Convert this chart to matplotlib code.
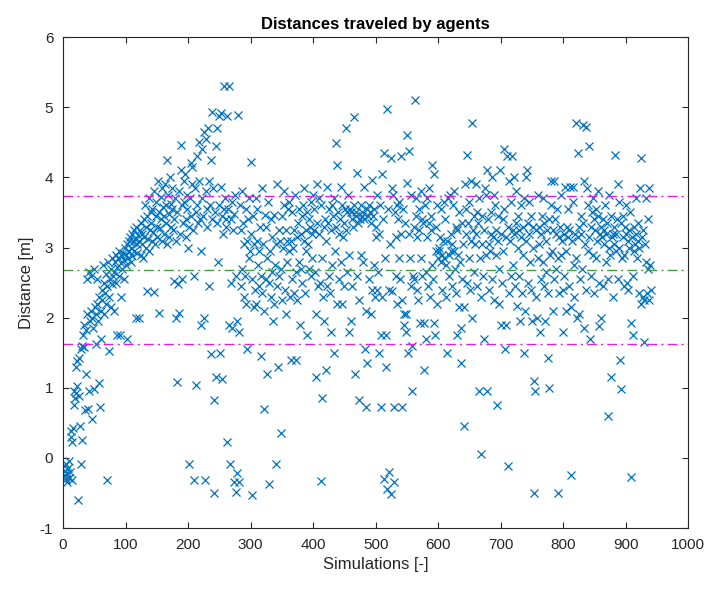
import numpy as np
import matplotlib
matplotlib.use("Agg")
import matplotlib.pyplot as plt

plt.rcParams['font.family'] = ['Liberation Sans', 'DejaVu Sans']
plt.rcParams['axes.unicode_minus'] = False

# distance per simulation (20 simulations per row)
distances = [
    -0.12, -0.25, -0.18, -0.30, -0.08, -0.22, -0.35, -0.15, -0.28, -0.05, -0.20, 0.30, 0.38, 0.22, -0.32, 0.42, 0.75, 0.95, 0.85, 1.30,
    0.92, 1.38, 1.02, -0.60, 1.42, 0.88, 0.45, 1.55, -0.08, 1.60, 0.25, 1.75, 1.90, 1.58, 0.68, 1.82, 1.20, 2.55, 2.05, 0.70,
    2.65, 0.95, 1.95, 2.10, 2.60, 0.55, 2.00, 1.85, 2.70, 0.98, 2.15, 1.62, 2.05, 2.55, 2.20, 1.95, 2.30, 1.07, 0.72, 1.70,
    2.10, 2.40, 2.25, 2.75, 2.05, 2.50, 2.35, 2.62, 2.20, -0.32, 2.45, 2.80, 2.30, 1.52, 2.55, 2.70, 2.15, 2.48, 2.85, 2.60,
    2.10, 2.65, 2.80, 2.50, 2.90, 2.72, 1.75, 2.85, 2.60, 2.95, 1.76, 2.78, 2.30, 2.88, 2.70, 2.92, 2.55, 2.82, 3.00, 2.75,
    2.90, 3.05, 1.70, 2.85, 3.10, 2.95, 3.15, 2.80, 3.00, 3.20, 2.88, 3.08, 3.25, 2.95, 3.12, 3.30, 2.00, 3.05, 2.92, 3.18,
    3.10, 2.00, 3.25, 2.90, 3.35, 3.05, 3.20, 2.85, 3.40, 3.15, 3.60, 3.00, 3.30, 2.38, 3.45, 3.12, 3.70, 2.95, 3.25, 3.50,
    3.35, 3.10, 3.55, 3.22, 2.36, 3.80, 3.05, 3.45, 3.65, 3.30, 3.15, 3.95, 3.50, 2.07, 3.28, 3.72, 3.40, 3.10, 3.85, 3.58,
    3.45, 3.20, 3.90, 3.60, 3.35, 3.05, 4.25, 3.75, 3.48, 3.15, 4.00, 3.62, 3.30, 3.55, 3.85, 3.25, 3.40, 2.52, 3.70, 3.10,
    2.00, 3.50, 1.08, 2.48, 2.07, 3.80, 3.20, 4.10, 4.46, 3.60, 2.55, 3.35, 3.95, 3.65, 4.05, 3.40, 3.15, 3.75, 3.55, 3.00,
    3.30, -0.08, 3.70, 4.20, 3.45, 3.90, 4.15, 3.25, 2.60, -0.32, 3.85, 3.50, 1.04, 4.30, 3.60, 3.35, 3.95, 4.50, 3.40, 2.95,
    1.90, 3.70, 4.40, 3.45, 2.00, 4.65, -0.32, 3.80, 4.55, 3.30, 3.55, 4.70, 3.95, 2.45, 3.60, 4.25, 1.48, 3.40, 4.94, 3.85,
    0.82, -0.50, 3.50, 4.45, 1.15, 3.35, 4.70, 2.80, 4.88, 3.60, 1.50, 3.87, 4.92, 3.45, 1.12, 3.20, 3.55, 5.30, 3.70, 3.40,
    3.30, 4.87, 0.23, 3.55, 1.90, 5.30, -0.08, 3.40, 2.50, 3.65, 1.85, 3.25, 3.48, -0.35, 3.75, 2.60, -0.48, 1.95, -0.22, 4.89,
    -0.35, 1.80, 3.60, 2.45, 3.25, 2.70, 3.80, 3.35, 2.30, 3.05, 2.60, 3.55, 2.20, 3.10, 1.55, 3.40, 2.85, 3.70, 2.95, 4.22,
    3.20, 2.55, -0.53, 3.45, 2.15, 3.05, 2.40, 3.70, 2.20, 3.10, 3.55, 2.75, 2.95, 2.45, 3.30, 1.45, 2.60, 3.85, 2.35, 3.05,
    2.10, 0.70, 3.47, 2.55, 3.30, 1.20, 2.85, 3.65, 2.50, -0.37, 2.95, 2.30, 3.40, 2.65, 3.15, 1.95, 2.20, 3.47, 2.75, -0.08,
    3.05, 2.45, 3.90, 1.30, 3.25, 2.60, 3.10, 0.35, 2.70, 3.45, 2.25, 3.00, 3.60, 3.80, 2.40, 3.25, 2.05, 3.10, 2.80, 3.55,
    2.95, 3.65, 2.30, 1.40, 3.10, 3.50, 2.55, 3.00, 2.35, 3.25, 3.75, 2.65, 1.40, 3.15, 2.25, 3.35, 2.80, 3.55, 1.90, 2.70,
    3.20, 3.45, 2.50, 3.60, 3.10, 3.85, 2.35, 3.25, 2.95, 3.50, 1.75, 3.05, 3.40, 2.70, 3.30, 2.60, 3.65, 2.85, 3.20, 3.75,
    3.25, 3.55, 2.65, 2.05, 1.15, 3.90, 3.35, 2.45, 3.70, 3.20, 2.50, -0.33, 3.60, 2.85, 0.85, 2.30, 3.30, 1.95, 3.40, 1.25,
    3.10, 2.45, 3.87, 3.35, 2.60, 3.55, 2.35, 1.80, 3.25, 3.60, 2.75, 3.45, 3.70, 1.50, 2.95, 4.49, 3.30, 2.20, 4.18, 3.50,
    3.20, 2.55, 3.40, 3.87, 2.80, 3.60, 2.20, 3.15, 2.45, 3.35, 3.55, 4.70, 3.25, 2.65, 3.50, 3.75, 2.90, 1.80, 3.55, 1.95,
    3.50, 3.40, 2.45, 3.30, 3.60, 4.86, 1.20, 3.45, 3.50, 2.60, 4.06, 3.35, 2.25, 0.82, 3.40, 3.60, 2.90, 3.45, 3.50, 2.80,
    3.40, 3.87, 1.55, 0.72, 2.10, 3.55, 1.35, 3.45, 2.55, 3.60, 3.50, 2.05, 3.35, 2.40, 3.97, 3.45, 2.75, 3.55, 2.30, 3.15,
    3.30, 2.40, 3.75, 2.65, 1.50, 3.20, 3.60, 1.75, 0.72, 4.05, 2.30, 3.40, 4.35, -0.30, 2.85, 1.75, 1.30, 4.98, -0.45, 3.55,
    -0.20, 2.40, 3.05, 4.27, -0.52, 2.38, 3.85, 3.75, 0.72, -0.35, 3.50, 2.60, 3.15, 3.60, 2.20, 3.40, 2.85, 3.65, 2.55, 3.20,
    4.30, 0.72, 2.25, 3.55, 2.05, 1.90, 3.35, 1.80, 2.05, 4.60, 3.92, 1.50, 4.37, 3.20, 2.85, 3.75, 2.45, 1.60, 0.95, 2.60,
    3.30, 2.55, 5.10, 3.70, 3.45, 2.40, 3.15, 2.25, 3.55, 3.25, 1.92, 3.80, 2.85, 3.40, 2.60, 3.35, 1.25, 1.92, 3.60, 2.65,
    1.70, 3.70, 3.15, 2.45, 3.35, 3.85, 2.30, 3.25, 3.45, 4.18, 2.75, 2.55, 4.05, 1.92, 1.75, 3.30, 2.95, 3.60, 2.20, 2.85,
    3.00, 2.95, 3.15, 2.80, 3.55, 2.40, 2.90, 3.10, 3.65, 2.85, 3.40, 2.30, 2.75, 1.50, 3.10, 3.70, 2.90, 2.60, 3.75, 2.95,
    3.20, 2.45, 3.05, 3.60, 2.95, 3.80, 2.70, 3.30, 2.35, 1.75, 3.25, 2.90, 2.15, 3.50, 2.80, 1.85, 1.35, 3.35, 2.55, 3.05,
    2.15, 0.45, 3.90, 3.20, 3.55, 4.32, 2.50, 3.35, 2.85, 3.65, 2.40, 3.95, 3.10, 4.77, 2.00, 3.25, 2.65, 3.45, 3.05, 3.90,
    3.20, 3.50, 2.45, 3.35, 0.95, 3.70, 2.85, 0.05, 2.30, 3.45, 3.05, 2.60, 1.70, 3.25, 3.85, 3.75, 2.90, 4.10, 0.95, 3.40,
    3.05, 2.40, 2.95, 3.50, 3.20, 4.00, 2.55, 3.15, 3.75, 2.25, 3.60, 3.25, 2.90, 0.75, 3.10, 3.45, 2.70, 2.20, 4.10, 1.90,
    3.20, 2.50, 3.40, 2.95, 4.40, 3.55, 1.55, 3.15, 1.90, 4.30, -0.12, 3.30, 3.95, 2.35, 3.10, 3.65, 2.60, 4.30, 3.25, 2.75,
    4.00, 3.20, 2.45, 3.35, 3.80, 2.17, 3.00, 3.45, 2.60, 3.25, 1.95, 3.15, 3.60, 2.35, 2.90, 3.30, 1.50, 3.70, 2.10, 4.00,
    3.10, 4.10, 3.35, 2.50, 3.20, 3.65, 2.80, 3.45, 2.40, 1.95, 3.00, 3.30, 1.10, -0.50, 0.95, 3.25, 2.30, 2.00, 3.75, 2.85,
    3.05, 3.30, 1.80, 2.55, 3.20, 3.45, 2.80, 3.70, 2.45, 3.35, 1.95, 3.10, 2.65, 3.25, 2.35, 1.43, 1.00, 3.40, 2.90, 3.60,
    3.95, 2.95, 3.25, 2.10, 2.55, 3.95, 3.40, 2.70, 3.20, 3.55, 2.85, -0.50, 3.15, 2.35, 3.30, 2.90, 3.75, 3.10, 2.40, 1.80,
    3.20, 2.60, 3.87, 2.95, 2.10, 3.30, 3.15, 3.55, 2.45, 3.25, 3.87, 2.15, -0.25, 3.10, 3.65, 3.87, 2.30, 2.75, 3.20, 2.85,
    4.77, 2.00, 3.15, 4.35, 2.05, 3.30, 2.55, 3.45, 3.20, 2.70, 3.35, 4.75, 3.95, 1.85, 3.05, 2.40, 4.72, 3.85, 2.95, 3.60,
    3.15, 4.45, 1.70, 3.30, 2.60, 3.50, 2.90, 3.70, 3.40, 2.35, 3.25, 3.55, 2.85, 3.10, 3.80, 3.45, 2.50, 1.88, 3.20, 3.30,
    2.00, 3.15, 3.40, 2.45, 3.25, 3.05, 3.60, 2.80, 3.20, 3.35, 2.55, 0.60, 3.00, 3.75, 2.90, 3.45, 1.15, 3.15, 2.30, 3.20,
    3.05, 3.30, 4.32, 2.95, 3.20, 3.40, 2.55, 3.90, 3.00, 3.65, 1.40, 0.98, 3.35, 2.85, 3.15, 3.45, 2.45, 2.90, 3.30, 3.20,
    3.60, 2.50, 2.40, 3.10, 3.25, 3.00, 3.50, -0.27, 1.92, 3.15, 2.60, 1.75, 3.30, 2.95, 3.05, 3.20, 3.70, 2.85, 3.35, 3.10,
    3.00, 2.35, 3.85, 2.20, 4.27, 3.15, 2.30, 3.25, 2.25, 1.65, 3.05, 2.80, 3.70, 2.35, 2.70, 3.40, 2.25, 3.85, 2.75, 2.40,
]
simulations = np.arange(1, len(distances) + 1)

# reference lines (mean and mean +/- std as drawn)
mean_line = 2.68
upper_line = 3.73
lower_line = 1.63

fig = plt.figure(figsize=(7.08, 5.90), dpi=100)
ax = fig.add_axes([0.089, 0.105, 0.883, 0.832])

ax.plot(simulations, distances, linestyle='none', marker='x', color='#0072BD',
        markersize=6, markeredgewidth=0.9)
for yv, col in [(upper_line, '#E020E0'), (mean_line, '#3DA03D'), (lower_line, '#E020E0')]:
    ax.axhline(yv, color=col, linewidth=1.0, dashes=(7, 3, 1.5, 3))

ax.set_xlim(0, 1000)
ax.set_ylim(-1, 6)
ax.set_xticks(np.arange(0, 1001, 100))
ax.set_yticks(np.arange(-1, 7, 1))
ax.tick_params(direction='in', top=True, right=True, labelsize=11,
               colors='#262626', length=4, pad=7)
for sp in ax.spines.values():
    sp.set_color('#262626')
    sp.set_linewidth(0.8)

ax.set_title('Distances traveled by agents', fontsize=12, fontweight='bold', pad=6)
ax.set_xlabel('Simulations [-]', fontsize=12, color='#262626')
ax.set_ylabel('Distance [m]', fontsize=12, color='#262626')

fig.savefig('out.png', dpi=100)
